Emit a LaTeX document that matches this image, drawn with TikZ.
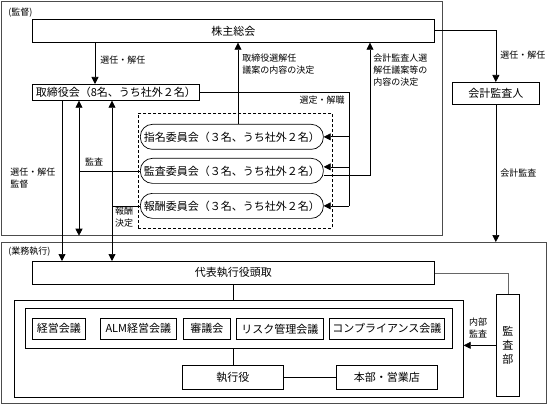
\documentclass[tikz,border=0pt]{standalone}
\usepackage{fontspec}
\setmainfont{Noto Sans CJK JP}
\usetikzlibrary{arrows.meta}
\begin{document}
\begin{tikzpicture}[x=1pt,y=-1pt,
  line width=0.7pt,
  bx/.style 2 args={draw, anchor=north west, inner sep=0pt, minimum width=#1, minimum height=#2, font=\fontsize{11}{13}\selectfont},
  frame/.style 2 args={draw=black!70, anchor=north west, inner sep=0pt, minimum width=#1, minimum height=#2},
  pill/.style={draw, anchor=north west, inner sep=0pt, minimum width=183pt, minimum height=25pt, rounded corners=12pt, font=\fontsize{11}{13}\selectfont},
  lbl/.style={font=\fontsize{9}{12}\selectfont, inner sep=0pt, align=left},
  arr/.style={-{Triangle[length=7pt,width=7pt]}},
  darr/.style={{Triangle[length=7pt,width=7pt]}-{Triangle[length=7pt,width=7pt]}},
]
\useasboundingbox (0,0) rectangle (547,404);
% outer frames
\node[frame={441pt}{234pt}] (kansaOuter) at (1,1) {};
\node[frame={545pt}{161pt}] (gyomu) at (1,242) {};
\node[lbl, anchor=west] (hdrA) at (8,13) {(監督)};
\node[lbl, anchor=west] (hdrB) at (8,252) {(業務執行)};

% supervision
\node[bx={402pt}{23pt}] (kabu) at (32,19) {株主総会};
\node[bx={167pt}{16pt}] (tori) at (32,84) {取締役会（8名、うち社外２名）};
\node[bx={87pt}{22pt}] (kaikei) at (452,82) {会計監査人};
\node[draw, dash pattern=on 3pt off 2pt, line width=0.5pt, anchor=north west, inner sep=0pt, minimum width=194pt, minimum height=115pt] (dbox) at (138,113) {};
\node[pill] (shimei) at (140,124) {指名委員会（３名、うち社外２名）};
\node[pill] (kansaI) at (140,158) {監査委員会（３名、うち社外２名）};
\node[pill] (houshu) at (140,193) {報酬委員会（３名、うち社外２名）};

% execution
\node[bx={402pt}{23pt}] (daihyo) at (32,261) {代表執行役頭取};
\node[bx={23pt}{102pt}, align=center, font=\fontsize{11}{14}\selectfont] (kansabu) at (496,294) {監\\査\\部};
\node[bx={449pt}{97pt}] (inner) at (14,300) {};
\node[bx={427pt}{40pt}] (container) at (25,308) {};
\node[bx={53pt}{21pt}] (m1) at (32,318) {経営会議};
\node[bx={76pt}{21pt}] (m2) at (100,318) {ALM経営会議};
\node[bx={47pt}{21pt}] (m3) at (183,318) {審議会};
\node[bx={87pt}{21pt}] (m4) at (236,318) {リスク管理会議};
\node[bx={115pt}{21pt}] (m5) at (329,318) {コンプライアンス会議};
\node[bx={101pt}{24pt}] (shikko) at (182,365) {執行役};
\node[bx={101pt}{24pt}] (honbu) at (336,365) {本部・営業店};

% helper x positions
\coordinate (c62) at (62,0);
\coordinate (c79) at (79,0);
\coordinate (c95) at (95,0);
\coordinate (c112) at (112,0);
\coordinate (c238) at (238,0);
\coordinate (c349) at (349,0);
\coordinate (c370) at (370,0);

% connectors top
\draw[arr] (kabu.south -| c95) -- (tori.north -| c95);
\node[lbl, anchor=west] (l1) at (100,60) {選任・解任};
\draw[arr] (kabu.east) -| (kaikei.north);
\node[lbl, anchor=west] (l2) at (500,55) {選任・解任};
\draw[arr] (kaikei.south) -- (kaikei.south |- gyomu.north);
\node[lbl, anchor=west] (l3) at (500,173) {会計監査};

\draw[arr] (shimei.north -| c238) -- (kabu.south -| c238);
\node[lbl, anchor=north west] (l4) at (242,54) {取締役選解任\\議案の内容の決定};

\draw (tori.east) -- (tori.east -| c349) -- (houshu.east -| c349);
\draw[arr] (houshu.east -| c349) -- (houshu.east);
\draw[arr] (shimei.east -| c349) -- (shimei.east);
\coordinate (kIn) at ([yshift=4pt]kansaI.east);
\coordinate (kOut) at ([yshift=-4pt]kansaI.east);
\draw[arr] (kIn -| c349) -- (kIn);
\draw[arr] (kOut) -- (kOut -| c370) -- (kabu.south -| c370);
\node[lbl, anchor=east] (l5) at (345,100) {選定・解職};
\node[lbl, anchor=north west] (l6) at (373,54) {会計監査人選\\解任議案等の\\内容の決定};

% connectors left
\draw[arr] (tori.south -| c62) -- (daihyo.north -| c62);
\draw[darr] (tori.south -| c79) -- (kansaOuter.south -| c79);
\draw (kansaI.west -| c79) -- (kansaI.west);
\draw[darr] (tori.south -| c112) -- (daihyo.north -| c112);
\draw (houshu.west -| c112) -- (houshu.west);
\node[lbl] (l7) at (94,162) {監査};
\node[lbl, align=center] (l8) at (124,217) {報酬\\決定};
\node[lbl, anchor=west] (l9) at (10,178) {選任・解任\\監督};

% connectors bottom
\draw[draw=black!60] (daihyo.east) -| (kansabu.north);
\draw (daihyo.south) -- (daihyo.south |- inner.north);
\draw[arr] (kansabu.west) -- (kansabu.west -| inner.east);
\node[lbl, align=center] (l10) at (478,328) {内部\\監査};
\draw (shikko.north |- container.south) -- (shikko.north);
\draw (shikko.east) -- (honbu.west);
\end{tikzpicture}
\end{document}
